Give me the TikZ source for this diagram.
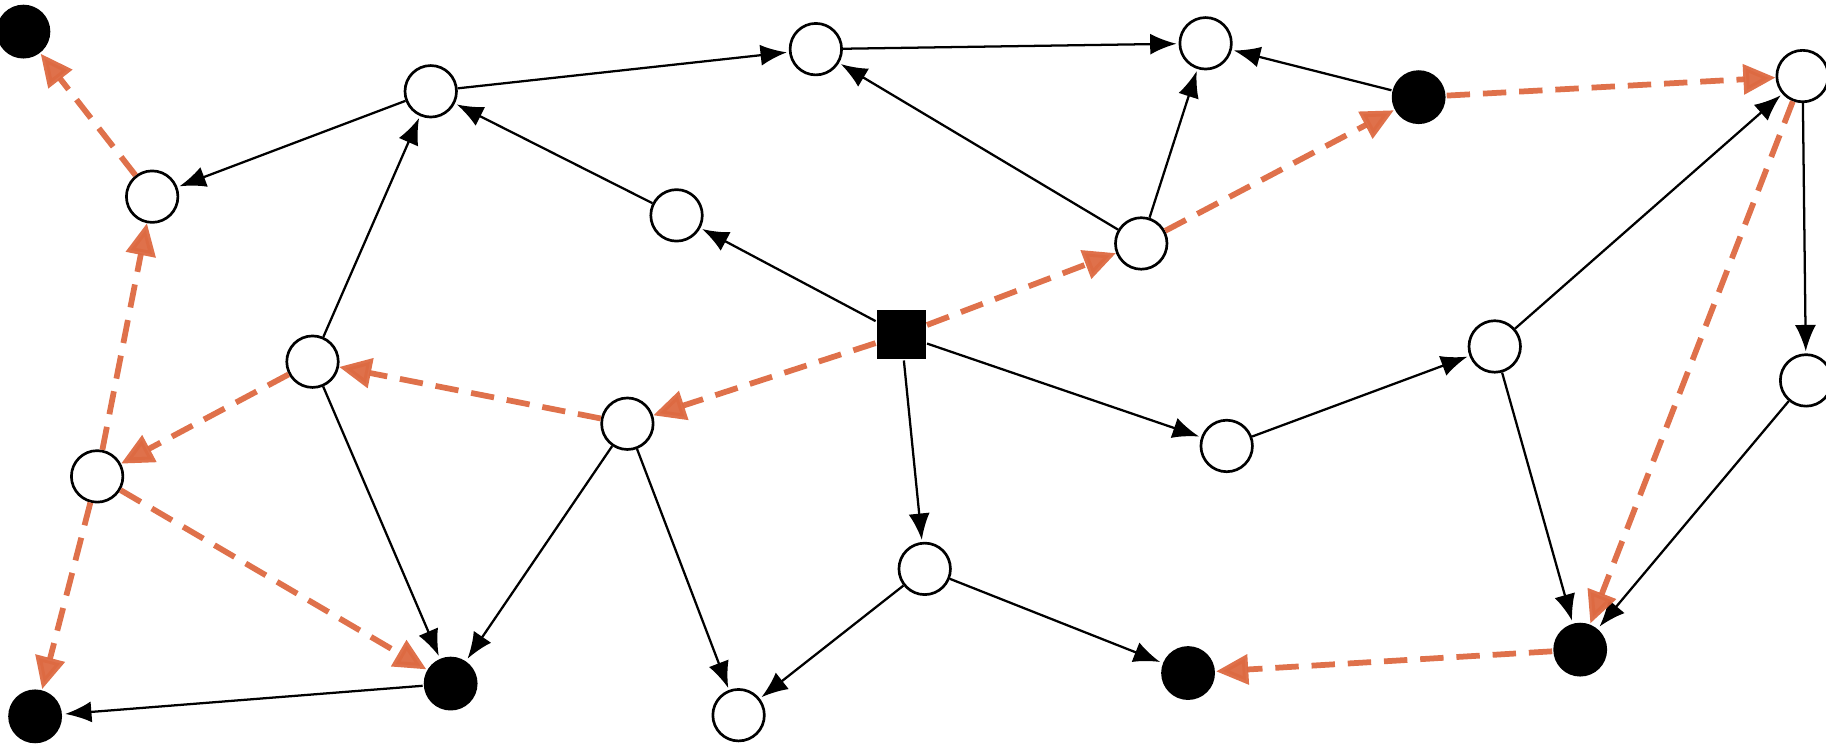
\documentclass[tikz,border=0pt]{standalone}
\usetikzlibrary{arrows.meta}
\definecolor{orng}{RGB}{221,105,65}
\tikzset{every path/.style={line width=1.1 pt}}
\tikzset{
  wnode/.style={circle,draw,fill=white,minimum size=0.88cm,inner sep=0pt,line width=1.3pt},
  bnode/.style={circle,fill=black,minimum size=0.92cm,inner sep=0pt},
  snode/.style={rectangle,fill=black,minimum size=0.84cm,inner sep=0pt},
  arc/.style={-{Latex[length=0.45cm,width=0.36cm]},shorten >=1pt},
  route/.style={orng,dashed,dash pattern=on 0.4cm off 0.22cm,line width=2.8pt,opacity=0.95,
    -{Triangle[length=0.55cm,width=0.5cm]}}
}

\begin{document}
\begin{tikzpicture}[x=0.02cm,y=-0.02cm]
\useasboundingbox (0,0) rectangle (1560,635);
\node[bnode] (b1) at (20,27) {};
\node[wnode] (w1) at (130,168) {};
\node[wnode] (w2) at (368,78) {};
\node[wnode] (w3) at (697,42) {};
\node[wnode] (w4) at (1030,37) {};
\node[bnode] (b2) at (1212,83) {};
\node[wnode] (w5) at (1540,65) {};
\node[wnode] (w6) at (578,184) {};
\node[wnode] (w7) at (975,208) {};
\node[snode] (sq) at (770,286) {};
\node[wnode] (w8) at (267,309) {};
\node[wnode] (w9) at (536,362) {};
\node[wnode] (w10) at (1277,296) {};
\node[wnode] (w11) at (1543,325) {};
\node[wnode] (w12) at (83,407) {};
\node[wnode] (w13) at (1048,381) {};
\node[wnode] (w14) at (790,486) {};
\node[bnode] (b3) at (385,584) {};
\node[bnode] (b4) at (30,612) {};
\node[wnode] (w15) at (631,611) {};
\node[bnode] (b5) at (1015,575) {};
\node[bnode] (b6) at (1350,555) {};

% graph edges
\foreach \a/\b in {w2/w3,w3/w4,b2/w4,w7/w4,w7/w3,w6/w2,sq/w6,w2/w1,w8/w2,sq/w13,
  w13/w10,w10/w5,w5/w11,w11/b6,w10/b6,sq/w14,w14/b5,w14/w15,w9/w15,w9/b3,w8/b3,b3/b4}
  \draw[arc] (\a) -- (\b);

% route
\foreach \a/\b in {w1/b1,w12/w1,w8/w12,w9/w8,sq/w9,sq/w7,w7/b2,b2/w5,w5/b6,b6/b5,w12/b3,w12/b4}
  \draw[route] (\a) -- (\b);
\end{tikzpicture}
\end{document}
